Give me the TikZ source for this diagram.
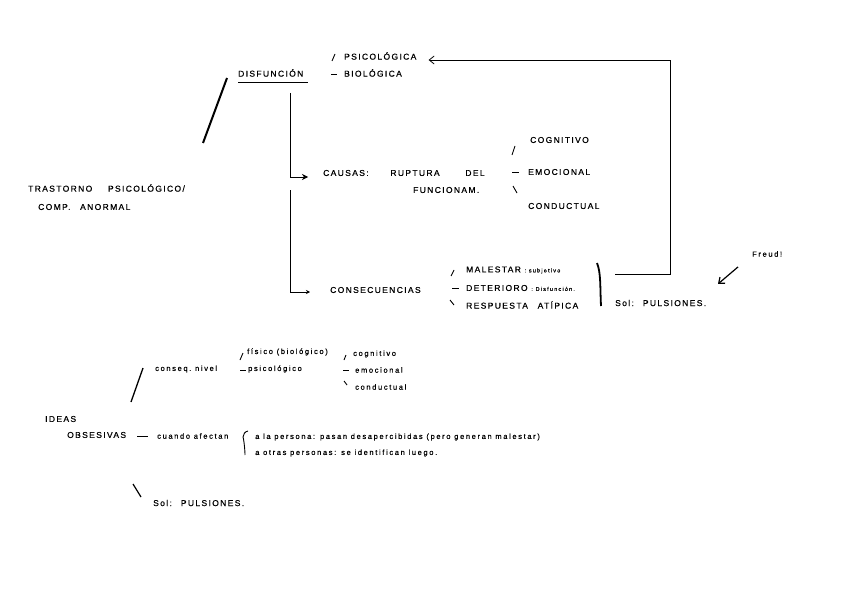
\documentclass[tikz,border=0pt]{standalone}
\usepackage{fontspec}
\setmainfont{Liberation Sans}
\newfontfamily\handcaps[LetterSpace=16, FakeBold=0.6]{Liberation Sans}
\newfontfamily\handlow[LetterSpace=22, FakeBold=0.4]{Liberation Sans}
\newcommand{\handnote}{\handlow\fontsize{5.5}{6}\selectfont}
\usetikzlibrary{arrows.meta, positioning}

\begin{document}
\begin{tikzpicture}[x=1pt, y=-1pt,
  caps/.style={anchor=west, inner sep=0pt, font=\handcaps\fontsize{8.5}{10}\selectfont},
  low/.style={anchor=west, inner sep=0pt, font=\handlow\fontsize{7.5}{9}\selectfont},
  tick/.style={line width=0.9pt},
  slash/.style={line width=2pt},
  arr/.style={-{Straight Barb[length=5pt, width=8pt]}, line width=0.8pt}
]
  \useasboundingbox (0,0) rectangle (848,599);

  \node[caps] (trast) at (28,188) {TRASTORNO\hspace{12pt} PSICOLÓGICO/};
  \node[caps] (comp) at (38,207) {COMP.\hspace{6pt} ANORMAL};
  \node[caps] (disf) at (238,73) {DISFUNCIÓN};
  \node[caps] (psico) at (344,56) {PSICOLÓGICA};
  \node[caps] (bio) at (344,73) {BIOLÓGICA};
  \node[caps] (causas) at (323,173) {CAUSAS:\hspace{18pt} RUPTURA\hspace{22pt} DEL};
  \node[caps] (func) at (413,190) {FUNCIONAM.};
  \node[caps] (cog) at (530,140) {COGNITIVO};
  \node[caps] (emo) at (528,172) {EMOCIONAL};
  \node[caps] (cond) at (528,206) {CONDUCTUAL};
  \node[caps] (consec) at (330,290) {CONSECUENCIAS};
  \node[caps] (males) at (466,270) {MALESTAR\ {\handnote : subjetivo}};
  \node[caps] (deter) at (466,288) {DETERIORO\ {\handnote : Disfunción.}};
  \node[caps] (resp) at (466,305) {RESPUESTA\hspace{6pt} ATÍPICA};
  \node[caps] (sol) at (615,303) {Sol:\hspace{4pt} PULSIONES.};
  \node[low] (freud) at (752,254) {Freud!};

  \node[low] (conseq) at (155,369) {conseq.\ nivel};
  \node[low] (fis) at (247,352) {físico (biológico)};
  \node[low] (psi) at (248,369) {psicológico};
  \node[low] (cog2) at (353,354) {cognitivo};
  \node[low] (emo2) at (355,370) {emocional};
  \node[low] (cond2) at (355,387) {conductual};
  \node[caps] (ideas) at (45,419) {IDEAS};
  \node[caps] (obs) at (67,435) {OBSESIVAS};
  \node[low] (cuando) at (157,436) {cuando afectan};
  \node[low] (pers) at (255,437) {a la persona: pasan desapercibidas (pero generan malestar)};
  \node[low] (otras) at (255,453) {a otras personas: se identifican luego.};
  \node[caps] (sol2) at (153,503) {Sol:\hspace{4pt} PULSIONES.};

  % top part
  \draw[slash] ([shift={(-35,70)}]disf.west) -- ([shift={(-11,5)}]disf.west);
  \draw[thick] ([shift={(0,5)}]disf.south west) -- ([shift={(4,5)}]disf.south east);
  \draw[tick] ([shift={(-12,5)}]psico.west) -- ++(3,-7);
  \draw[tick] ([shift={(-13,1)}]bio.west) -- ++(6,0);
  \coordinate (trunk) at ([shift={(52,16)}]disf.south west);
  \draw[arr, line width=0.6pt, -{Stealth[length=6pt, width=6pt]}] (trunk) |- ([shift={(-15,4)}]causas.west);
  \draw[arr, line width=0.6pt, -{Stealth[length=4pt, width=4pt]}] (trunk |- func.west) |- ([shift={(-20,2)}]consec.west);
  \draw[tick] ([shift={(-18,15)}]cog.west) -- ++(3,-9);
  \draw[tick] ([shift={(-16,0)}]emo.west) -- ++(7,0);
  \draw[tick] ([shift={(-15,-20)}]cond.west) -- ++(4,7);
  \draw[tick] ([shift={(-15,6)}]males.west) -- ++(3,-6);
  \draw[tick] ([shift={(-14,0)}]deter.west) -- ++(7,0);
  \draw[tick] ([shift={(-16,-5)}]resp.west) -- ++(4,5);
  \draw[line width=1.8pt] ([shift={(-18,-40)}]sol.west) .. controls +(4,10) and +(-1,-20) .. ([shift={(-14,3)}]sol.west);
  \draw[arr] ([shift={(0,-29)}]sol.west) -- ++(55,0) |- ([shift={(12,4)}]psico.east);
  \draw[arr, line width=1.2pt] ([shift={(-14,10)}]freud.south west) -- ([shift={(-34,27)}]freud.south west);

  % bottom part
  \draw[line width=1.3pt] ([shift={(-12,-1)}]conseq.west) -- ++(-12,34);
  \draw[tick] ([shift={(-7,8)}]fis.west) -- ++(3,-7);
  \draw[tick] ([shift={(-8,1)}]psi.west) -- ++(6,0);
  \draw[tick] ([shift={(-9,6)}]cog2.west) -- ++(2,-5);
  \draw[tick] ([shift={(-12,0)}]emo2.west) -- ++(6,0);
  \draw[tick] ([shift={(-11,-6)}]cond2.west) -- ++(3,4);
  \draw[tick] ([shift={(-20,0)}]cuando.west) -- ++(11,0);
  \coordinate (brace) at ([shift={(-12,0)}]pers.west);
  \draw[tick] ([shift={(5,-6)}]brace) .. controls +(-4,1) and +(1,-3) .. (brace) .. controls +(1,3) and +(0,-4) .. ++(2,18);
  \draw[line width=1.2pt] ([shift={(-20,-19)}]sol2.west) -- ++(8,13);
\end{tikzpicture}
\end{document}
